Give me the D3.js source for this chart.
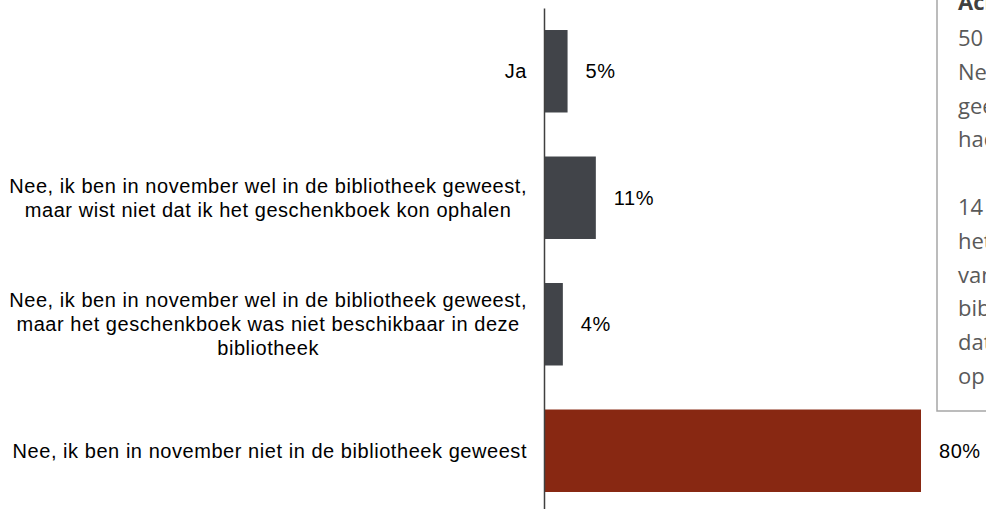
<!DOCTYPE html>
<html>
<head>
<meta charset="utf-8">
<script src="https://cdn.jsdelivr.net/npm/d3@7"></script>
<style>
  html, body { margin: 0; padding: 0; background: #fff; overflow: hidden; }
  svg { display: block; }
</style>
</head>
<body>
<svg id="chart" width="986" height="509"></svg>
<script>
// ---- data ----
const categories = [
  ["Ja"],
  ["Nee, ik ben in november wel in de bibliotheek geweest,", "maar wist niet dat ik het geschenkboek kon ophalen"],
  ["Nee, ik ben in november wel in de bibliotheek geweest,", "maar het geschenkboek was niet beschikbaar in deze", "bibliotheek"],
  ["Nee, ik ben in november niet in de bibliotheek geweest"]
];
const values = [5, 11, 4, 80];
const highlight = [false, false, false, true];
const noteTitle = "Achtergrond";
const noteLines = [
  "50 procent van de",
  "Nee-zeggers zegt",
  "geen tijd te hebben",
  "had geen interesse",
  "",
  "14 procent wist",
  "het boek niet",
  "van tevoren in de",
  "bibliotheek te",
  "dat het boek er",
  "op zou liggen"
];

// ---- layout ----
const svg = d3.select("#chart");
const axisX = 544;
const keys = categories.map((c, i) => i);

const x = d3.scaleLinear().domain([0, 80]).range([axisX, 921]);
const y = d3.scaleBand().domain(keys).range([8, 514]).paddingInner(0.348).paddingOuter(0.174);

// bars
svg.selectAll("rect.bar").data(keys).join("rect")
  .attr("class", "bar")
  .attr("x", x(0))
  .attr("y", i => y(i))
  .attr("width", i => x(values[i]) - x(0))
  .attr("height", y.bandwidth())
  .attr("fill", i => highlight[i] ? "#882812" : "#414449");

// axis line
const yAxis = d3.axisLeft(y).tickSize(0).tickFormat("");
const gAxis = svg.append("g").attr("transform", `translate(${axisX},0)`).call(yAxis);
gAxis.select(".domain").attr("stroke", "#404040").attr("stroke-width", 1.5);

// category labels
const labelFont = "20px 'Liberation Sans', Arial, sans-serif";
const labelSpacing = "0.55px";
const labelRight = 527;
const lineH = 24;
const measure = svg.append("text").style("font", labelFont).style("letter-spacing", labelSpacing).attr("visibility", "hidden");
function tw(s) { measure.text(s); return measure.node().getComputedTextLength(); }

keys.forEach(i => {
  const lines = categories[i];
  const maxW = d3.max(lines, tw);
  const cx = labelRight - maxW / 2;
  const cy = y(i) + y.bandwidth() / 2;
  const t = svg.append("text")
    .style("font", labelFont)
    .style("letter-spacing", labelSpacing)
    .attr("fill", "#000")
    .attr("text-anchor", "middle");
  lines.forEach((l, k) => {
    t.append("tspan")
      .attr("x", cx)
      .attr("y", cy + (k - (lines.length - 1) / 2) * lineH + 7)
      .text(l);
  });
});
measure.remove();

// value labels
svg.selectAll("text.val").data(keys).join("text")
  .attr("class", "val")
  .attr("x", i => x(values[i]) + 18)
  .attr("y", i => y(i) + y.bandwidth() / 2 + 7)
  .style("font", labelFont)
  .style("letter-spacing", labelSpacing)
  .attr("fill", "#000")
  .text(i => values[i] + "%");

// note box
const boxX = 937;
svg.append("rect")
  .attr("x", boxX).attr("y", -10)
  .attr("width", 120).attr("height", 421)
  .attr("fill", "#fff")
  .attr("stroke", "#a6a6a6").attr("stroke-width", 1.5);

const noteFont = "'Open Sans', 'Noto Sans', sans-serif";
svg.append("text")
  .attr("x", 958).attr("y", 10)
  .style("font-family", noteFont).style("font-size", "22px").style("font-weight", "bold")
  .attr("fill", "#404040")
  .text(noteTitle);

svg.selectAll("text.note").data(noteLines).join("text")
  .attr("class", "note")
  .attr("x", 958)
  .attr("y", (d, k) => 46 + k * 33.8)
  .style("font-family", noteFont).style("font-size", "22px")
  .attr("fill", "#595959")
  .text(d => d);
</script>
</body>
</html>
